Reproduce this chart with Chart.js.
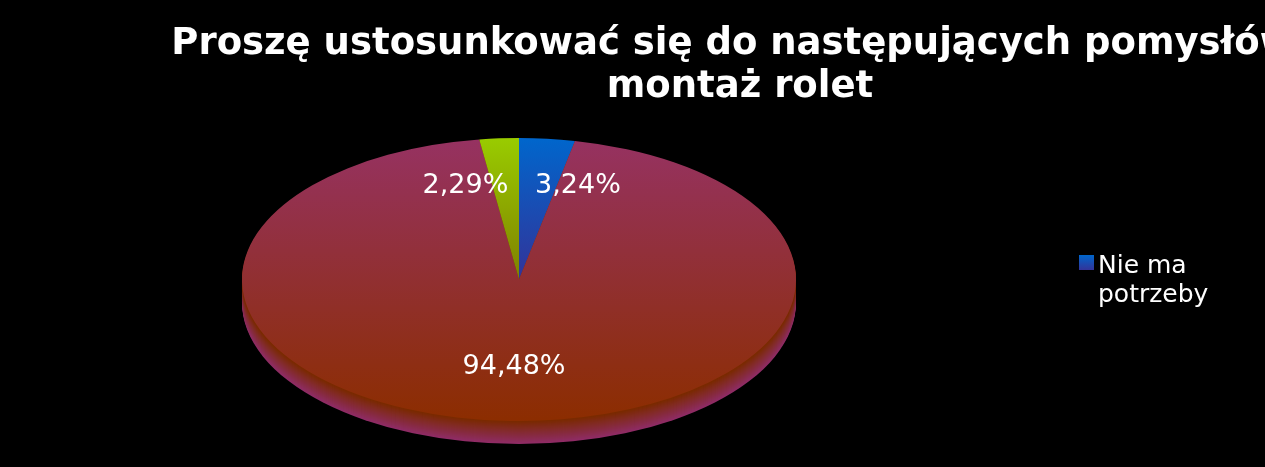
<!DOCTYPE html>
<html>
<head>
<meta charset="utf-8">
<style>
  html, body { margin: 0; background: #000; overflow: hidden; }
  canvas { display: block; }
</style>
<script src="https://cdn.jsdelivr.net/npm/chart.js@4"></script>
</head>
<body>
<canvas id="pie" width="1265" height="467"></canvas>
<script>
const titleLines = ['Proszę ustosunkować się do następujących pomysłów:', 'montaż rolet'];
// only the first legend entry is visible in the picture
const categories = ['Nie ma potrzeby', '', ''];
const shares = [3.24, 94.48, 2.29];
const legendLines = ['Nie ma', 'potrzeby'];

// gradient stops for each slice, top to bottom
const sliceTop = ['#0066cc', '#963262', '#99cc00'];
const sliceBottom = ['#333399', '#8c2d00', '#808000'];
const font = '"DejaVu Sans"';

// the pie is drawn circular by the library, then stretched to the ellipse
const pieX = 519;
const stretch = 277 / 141.5;
const depth = 23;
const labelPos = [[578, 186], [514, 367], [465.5, 186]];

function sliceColor(c) {
  const area = c.chart.chartArea;
  if (!area) return sliceTop[c.dataIndex];
  const mid = (area.top + area.bottom) / 2;
  // the big slice runs over the whole height, the small ones stop at the centre
  const end = c.dataIndex === 1 ? area.bottom : mid;
  const g = c.chart.ctx.createLinearGradient(0, area.top, 0, end);
  g.addColorStop(0, sliceTop[c.dataIndex]);
  g.addColorStop(1, sliceBottom[c.dataIndex]);
  return g;
}

const piePlugin = {
  id: 'flatPie',
  afterLayout(chart) {
    // title runs past the right edge of the canvas, give it room so it isn't squeezed
    chart.titleBlock.left = 100;
    chart.titleBlock.right = 1380;
  },
  beforeDatasetsDraw(chart) {
    const ctx = chart.ctx;
    const arc = chart.getDatasetMeta(0).data[0];
    ctx.save();
    ctx.translate(pieX, 0);
    ctx.scale(stretch, 1);
    ctx.translate(-arc.x, 0);
    // side wall, stacked from the bottom up
    for (let i = depth; i > 0; i--) {
      const t = (i - 1) / (depth - 1);
      const r = Math.round(122 + (143 - 122) * t);
      const g = Math.round(42 + (44 - 42) * t);
      const b = Math.round(0 + 102 * t);
      ctx.fillStyle = `rgb(${r},${g},${b})`;
      ctx.beginPath();
      ctx.arc(arc.x, arc.y + i, arc.outerRadius, 0, Math.PI * 2);
      ctx.fill();
    }
  },
  afterDatasetsDraw(chart) {
    const ctx = chart.ctx;
    ctx.restore();
    ctx.save();
    ctx.fillStyle = '#fff';
    ctx.font = '27px ' + font;
    ctx.textAlign = 'center';
    ctx.textBaseline = 'middle';
    shares.forEach((v, i) => {
      ctx.fillText(v.toFixed(2).replace('.', ',') + '%', labelPos[i][0], labelPos[i][1]);
    });
    // legend
    const g = ctx.createLinearGradient(0, 255, 0, 270);
    g.addColorStop(0, sliceTop[0]);
    g.addColorStop(1, sliceBottom[0]);
    ctx.fillStyle = g;
    ctx.fillRect(1079, 255, 15, 15);
    ctx.fillStyle = '#fff';
    ctx.font = '25px ' + font;
    ctx.textAlign = 'left';
    legendLines.forEach((line, i) => ctx.fillText(line, 1098, 266 + i * 29));
    ctx.restore();
  }
};

new Chart(document.getElementById('pie'), {
  type: 'pie',
  data: {
    labels: categories,
    datasets: [{
      data: shares,
      backgroundColor: sliceColor,
      borderWidth: 0,
      clip: false
    }]
  },
  options: {
    responsive: false,
    animation: false,
    layout: { padding: { bottom: 46 } },
    plugins: {
      legend: { display: false },
      tooltip: { enabled: false },
      title: {
        display: true,
        text: titleLines,
        color: '#fff',
        font: { family: font, size: 37, weight: 'bold', lineHeight: 1.162 },
        padding: { top: 23, bottom: 29 }
      }
    }
  },
  plugins: [piePlugin]
});
</script>
</body>
</html>
